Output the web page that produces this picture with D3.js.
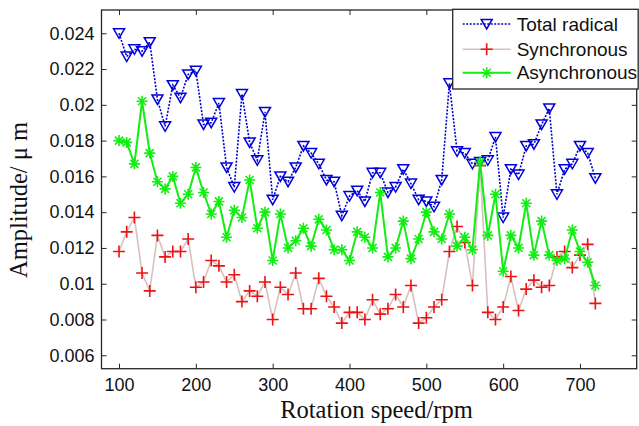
<!DOCTYPE html>
<html>
<head>
<meta charset="utf-8">
<script src="https://cdn.jsdelivr.net/npm/d3@7"></script>
<style>
  body { margin: 0; background: #fff; }
  svg { display: block; }
</style>
</head>
<body>
<div id="chart"></div>
<script>
/* Amplitude vs rotation speed, three components */

const speeds = [100,110,120,130,140,150,160,170,180,190,200,210,220,230,240,250,260,270,280,290,
                300,310,320,330,340,350,360,370,380,390,400,410,420,430,440,450,460,470,480,490,
                500,510,520,530,540,550,560,570,580,590,600,610,620,630,640,650,660,670,680,690,
                700,710,720];

const totalRadical = [0.0240,0.0227,0.0231,0.0230,0.0235,0.0203,0.0188,0.0211,0.0204,0.0217,
                      0.0219,0.0189,0.0190,0.0201,0.0165,0.0154,0.0206,0.0179,0.0169,0.0196,
                      0.0147,0.0160,0.0157,0.0165,0.0177,0.0173,0.0167,0.0158,0.0157,0.0138,
                      0.0149,0.0152,0.0146,0.0162,0.0162,0.0151,0.0154,0.0164,0.0156,0.0147,
                      0.0146,0.0143,0.0158,0.0212,0.0174,0.0173,0.0167,0.0168,0.0169,0.0182,
                      0.0137,0.0164,0.0161,0.0177,0.0178,0.0189,0.0198,0.0150,0.0164,0.0167,
                      0.0177,0.0173,0.0159];

const synchronous = [0.0118,0.0129,0.0137,0.0106,0.0096,0.0127,0.0115,0.0118,0.0118,0.0125,
                     0.0098,0.0101,0.0113,0.0110,0.0101,0.0105,0.0090,0.0096,0.0093,0.0101,
                     0.0080,0.0098,0.0094,0.0106,0.0086,0.0086,0.0103,0.0093,0.0087,0.0078,
                     0.0084,0.0084,0.0080,0.0091,0.0083,0.0086,0.0094,0.0087,0.0099,0.0078,
                     0.0081,0.0087,0.0091,0.0118,0.0132,0.0123,0.0099,0.0166,0.0084,0.0080,
                     0.0087,0.0104,0.0085,0.0097,0.0102,0.0098,0.0099,0.0115,0.0118,0.0109,
                     0.0116,0.0122,0.0089];

const asynchronous = [0.0180,0.0179,0.0167,0.0202,0.0173,0.0157,0.0153,0.0160,0.0145,0.0150,
                      0.0165,0.0151,0.0139,0.0146,0.0126,0.0141,0.0137,0.0158,0.0131,0.0140,
                      0.0113,0.0139,0.0120,0.0124,0.0131,0.0121,0.0136,0.0130,0.0119,0.0119,
                      0.0113,0.0129,0.0126,0.0120,0.0151,0.0115,0.0120,0.0135,0.0114,0.0125,
                      0.0140,0.0129,0.0125,0.0139,0.0121,0.0126,0.0119,0.0168,0.0127,0.0150,
                      0.0107,0.0127,0.0120,0.0145,0.0116,0.0135,0.0116,0.0113,0.0114,0.0130,
                      0.0118,0.0112,0.0099];

const xTicks = [100,200,300,400,500,600,700];
const yTicks = [0.006,0.008,0.010,0.012,0.014,0.016,0.018,0.020,0.022,0.024];
const yTickLabels = ["0.006","0.008","0.01","0.012","0.014","0.016","0.018","0.02","0.022","0.024"];
const seriesNames = ["Total radical","Synchronous","Asynchronous"];

const width = 639, height = 426,
      margin = ({top: 10, right: 2.3, bottom: 57.3, left: 101.5});

const svg = d3.select("#chart")
    .append("svg")
    .attr("width", width)
    .attr("height", height);

const x = d3.scaleLinear()
    .domain([77.2, 773.8])
    .range([margin.left, width - margin.right]);

const y = d3.scaleLinear()
    .domain([0.00525, 0.0253])
    .range([height - margin.bottom, margin.top]);

const tickFont = "'Liberation Sans', Arial, sans-serif";
const serifFont = "'Liberation Serif', 'Times New Roman', serif";
const axisColor = "#262626";

// axes, ticks pointing inward like matlab
svg.append("g")
    .attr("transform", `translate(0,${height - margin.bottom})`)
    .call(d3.axisBottom(x).tickValues(xTicks).tickSizeInner(-5).tickSizeOuter(0).tickPadding(9.5))
    .call(g => g.select(".domain").remove());

svg.append("g")
    .attr("transform", `translate(0,${margin.top})`)
    .call(d3.axisTop(x).tickValues(xTicks).tickSizeInner(-5).tickSizeOuter(0).tickFormat(""))
    .call(g => g.select(".domain").remove());

svg.append("g")
    .attr("transform", `translate(${margin.left},0)`)
    .call(d3.axisLeft(y).tickValues(yTicks).tickSizeInner(-5).tickSizeOuter(0).tickPadding(7)
        .tickFormat((d, i) => yTickLabels[i]))
    .call(g => g.select(".domain").remove());

svg.append("g")
    .attr("transform", `translate(${width - margin.right},0)`)
    .call(d3.axisRight(y).tickValues(yTicks).tickSizeInner(-5).tickSizeOuter(0).tickFormat(""))
    .call(g => g.select(".domain").remove());

svg.selectAll(".tick line").attr("stroke", axisColor).attr("stroke-width", 1);
svg.selectAll(".tick text")
    .attr("fill", "#111")
    .style("font-family", tickFont)
    .style("font-size", "18px");

svg.append("rect")
    .attr("x", margin.left)
    .attr("y", margin.top)
    .attr("width", width - margin.right - margin.left)
    .attr("height", height - margin.bottom - margin.top)
    .attr("fill", "none")
    .attr("stroke", axisColor)
    .attr("stroke-width", 1.3);

// axis titles
svg.append("text")
    .attr("x", 376.5)
    .attr("y", 418)
    .attr("text-anchor", "middle")
    .attr("fill", "#111")
    .style("font-family", serifFont)
    .style("font-size", "24.5px")
    .text("Rotation speed/rpm");

svg.append("text")
    .attr("transform", "translate(27,200) rotate(-90)")
    .attr("text-anchor", "middle")
    .attr("fill", "#111")
    .style("font-family", serifFont)
    .style("font-size", "24.5px")
    .text("Amplitude/ μ m");

// marker shapes
const triPath = "M-5.5,-4.5L5.5,-4.5L0,5Z";
const plusPath = "M-6,0L6,0M0,-6L0,6";
const starPath = "M-5.5,0L5.5,0M0,-5.5L0,5.5M-4,-4L4,4M-4,4L4,-4";

const series = [
    {name: seriesNames[0], values: totalRadical, line: "#0000cc", lineWidth: 1.6, dash: "2,1.5",
     marker: triPath, markerColor: "#0000dd", markerWidth: 1.5},
    {name: seriesNames[1], values: synchronous, line: "#d9c0c0", lineWidth: 1.6, dash: null,
     marker: plusPath, markerColor: "#ee1111", markerWidth: 1.6},
    {name: seriesNames[2], values: asynchronous, line: "#11ee11", lineWidth: 2, dash: null,
     marker: starPath, markerColor: "#11ee11", markerWidth: 1.6}
];

const line = d3.line()
    .x(d => x(d[0]))
    .y(d => y(d[1]));

for (let s of series) {
    let pts = speeds.map((v, i) => [v, s.values[i]]);
    let g = svg.append("g");

    g.append("path")
        .datum(pts)
        .attr("fill", "none")
        .attr("stroke", s.line)
        .attr("stroke-width", s.lineWidth)
        .attr("stroke-dasharray", s.dash)
        .attr("d", line);

    g.selectAll("path.mk")
        .data(pts)
        .join("path")
        .attr("class", "mk")
        .attr("transform", d => `translate(${x(d[0])},${y(d[1])})`)
        .attr("d", s.marker)
        .attr("fill", "none")
        .attr("stroke", s.markerColor)
        .attr("stroke-width", s.markerWidth);
}

// legend
const legend = svg.append("g");

legend.append("rect")
    .attr("x", 452.7)
    .attr("y", 9.3)
    .attr("width", 185.5)
    .attr("height", 79.7)
    .attr("fill", "#fff")
    .attr("stroke", axisColor)
    .attr("stroke-width", 1.3);

const rowY = [24, 49.3, 72.7];

series.forEach((s, i) => {
    let row = legend.append("g").attr("transform", `translate(0,${rowY[i]})`);
    row.append("line")
        .attr("x1", 462.7).attr("x2", 510.7)
        .attr("stroke", s.line)
        .attr("stroke-width", s.lineWidth)
        .attr("stroke-dasharray", s.dash);
    row.append("path")
        .attr("transform", "translate(486.7,0)")
        .attr("d", s.marker)
        .attr("fill", "none")
        .attr("stroke", s.markerColor)
        .attr("stroke-width", s.markerWidth);
    row.append("text")
        .attr("x", 516.7)
        .attr("dy", "0.35em")
        .attr("fill", "#111")
        .style("font-family", tickFont)
        .style("font-size", "19px")
        .text(s.name);
});
</script>
</body>
</html>
